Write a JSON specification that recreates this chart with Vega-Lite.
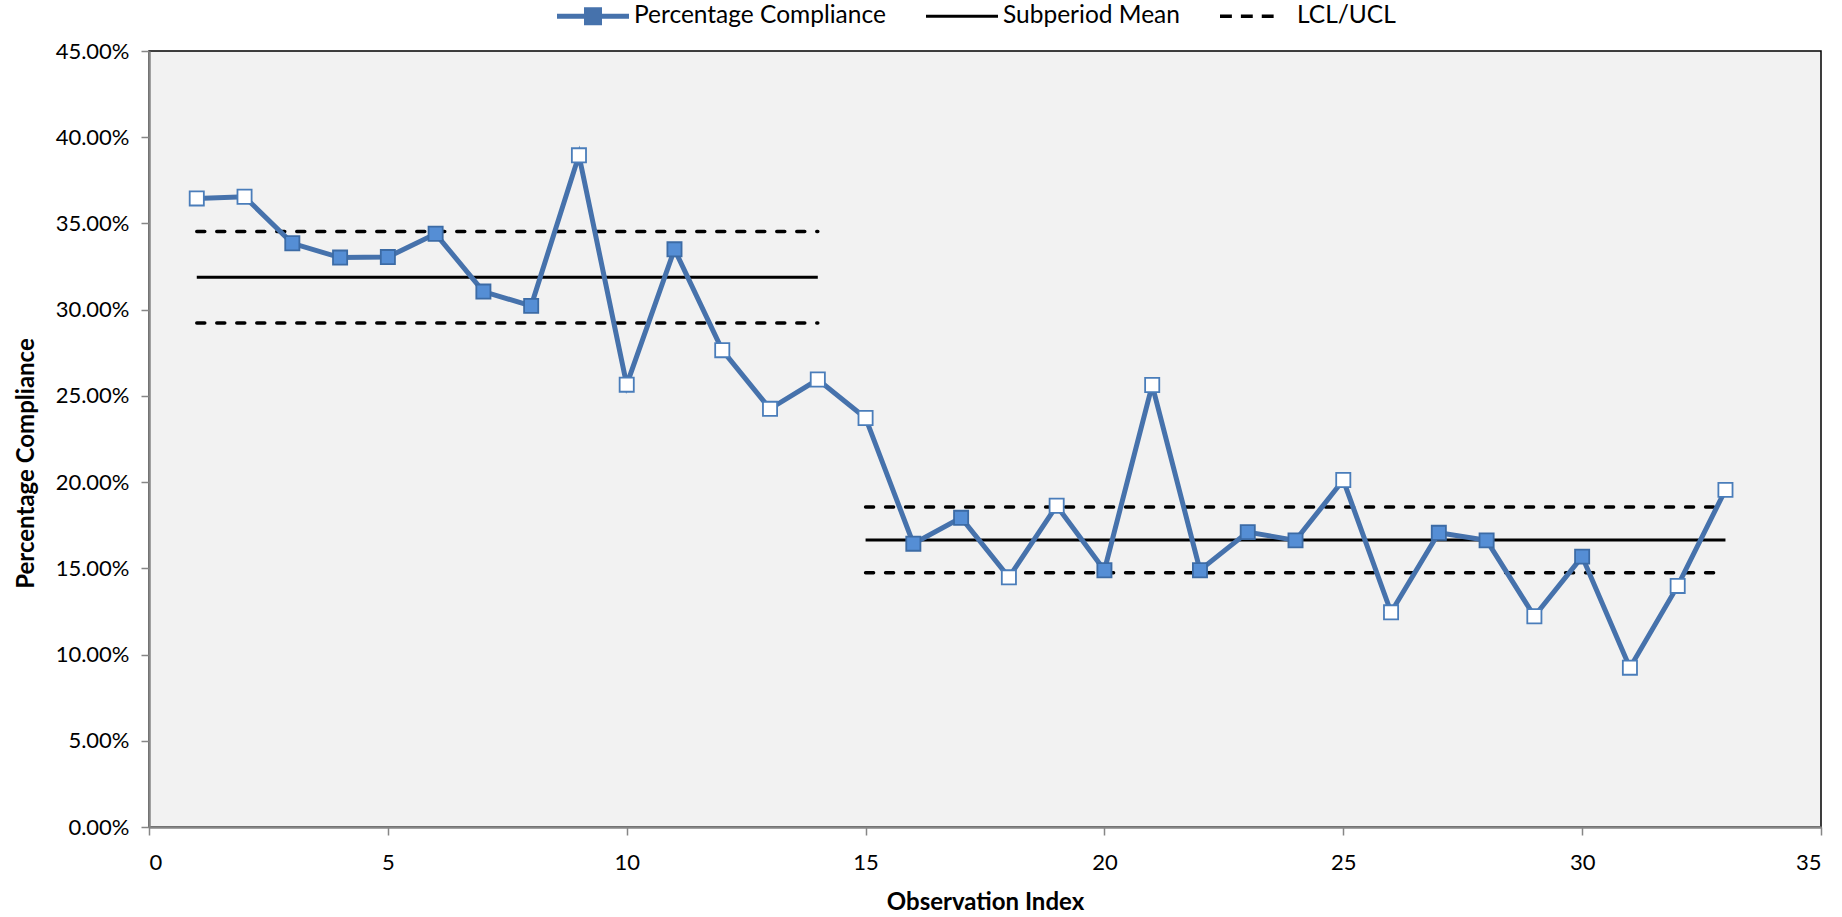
{
  "$schema": "https://vega.github.io/schema/vega-lite/v6.json",
  "autosize": "none",
  "width": 1672,
  "height": 776,
  "padding": {"left": 149, "top": 51, "right": 21, "bottom": 90},
  "background": "#FFFFFF",
  "config": {
    "view": {"fill": "#F2F2F2", "stroke": "#000000", "strokeWidth": 1.5},
    "font": "Lato",
    "axis": {
      "labelFont": "Lato", "labelFontSize": 22, "labelColor": "#000000",
      "titleFont": "Lato", "titleFontSize": 24, "titleFontWeight": "bold", "titleColor": "#000000",
      "domainColor": "#868686", "domainWidth": 2.5, "tickColor": "#868686", "tickWidth": 1.5, "tickSize": 8,
      "grid": false
    }
  },
  "datasets": {
    "obs": [
      {"x": 1, "y": 0.3645, "status": "out"},
      {"x": 2, "y": 0.3655, "status": "out"},
      {"x": 3, "y": 0.3385, "status": "in"},
      {"x": 4, "y": 0.3302, "status": "in"},
      {"x": 5, "y": 0.3305, "status": "in"},
      {"x": 6, "y": 0.3440, "status": "in"},
      {"x": 7, "y": 0.3105, "status": "in"},
      {"x": 8, "y": 0.3022, "status": "in"},
      {"x": 9, "y": 0.3895, "status": "out"},
      {"x": 10, "y": 0.2565, "status": "out"},
      {"x": 11, "y": 0.3350, "status": "in"},
      {"x": 12, "y": 0.2765, "status": "out"},
      {"x": 13, "y": 0.2425, "status": "out"},
      {"x": 14, "y": 0.2595, "status": "out"},
      {"x": 15, "y": 0.2372, "status": "out"},
      {"x": 16, "y": 0.1643, "status": "in"},
      {"x": 17, "y": 0.1793, "status": "in"},
      {"x": 18, "y": 0.1448, "status": "out"},
      {"x": 19, "y": 0.1863, "status": "out"},
      {"x": 20, "y": 0.1489, "status": "in"},
      {"x": 21, "y": 0.2563, "status": "out"},
      {"x": 22, "y": 0.1489, "status": "in"},
      {"x": 23, "y": 0.1710, "status": "in"},
      {"x": 24, "y": 0.1662, "status": "in"},
      {"x": 25, "y": 0.2012, "status": "out"},
      {"x": 26, "y": 0.1245, "status": "out"},
      {"x": 27, "y": 0.1706, "status": "in"},
      {"x": 28, "y": 0.1662, "status": "in"},
      {"x": 29, "y": 0.1222, "status": "out"},
      {"x": 30, "y": 0.1568, "status": "in"},
      {"x": 31, "y": 0.0924, "status": "out"},
      {"x": 32, "y": 0.1398, "status": "out"},
      {"x": 33, "y": 0.1955, "status": "out"}
    ],
    "means": [
      {"xs": 1, "xe": 14, "y": 0.3188},
      {"xs": 15, "xe": 33, "y": 0.1665}
    ],
    "limits": [
      {"xs": 1, "xe": 14, "y": 0.3453},
      {"xs": 1, "xe": 14, "y": 0.2923},
      {"xs": 15, "xe": 33, "y": 0.1856},
      {"xs": 15, "xe": 33, "y": 0.1475}
    ],
    "legend": [
      {"series": "Percentage Compliance"},
      {"series": "Subperiod Mean"},
      {"series": "LCL/UCL"}
    ]
  },
  "layer": [
    {
      "data": {"name": "means"},
      "mark": {"type": "rule", "color": "#000000", "strokeWidth": 3},
      "encoding": {
        "x": {"field": "xs", "type": "quantitative", "scale": {"domain": [0, 35], "nice": false},
              "axis": {"values": [0, 5, 10, 15, 20, 25, 30, 35], "title": "Observation Index", "labelPadding": 17, "titlePadding": 17}},
        "x2": {"field": "xe"},
        "y": {"field": "y", "type": "quantitative", "scale": {"domain": [0, 0.45], "nice": false},
              "axis": {"values": [0, 0.05, 0.1, 0.15, 0.2, 0.25, 0.3, 0.35, 0.4, 0.45], "format": ".2%", "title": "Percentage Compliance",
                       "labelPadding": 12, "titleX": -123, "titleY": 412, "titleAngle": -90, "titleBaseline": "middle", "titleAlign": "center"}}
      }
    },
    {
      "data": {"name": "limits"},
      "mark": {"type": "rule", "color": "#000000", "strokeWidth": 3.5, "strokeDash": [8, 12], "strokeCap": "round"},
      "encoding": {
        "x": {"field": "xs", "type": "quantitative"},
        "x2": {"field": "xe"},
        "y": {"field": "y", "type": "quantitative"}
      }
    },
    {
      "data": {"name": "obs"},
      "mark": {"type": "line", "color": "#4672AC", "strokeWidth": 5},
      "encoding": {
        "x": {"field": "x", "type": "quantitative"},
        "y": {"field": "y", "type": "quantitative"}
      }
    },
    {
      "data": {"name": "obs"},
      "mark": {"type": "point", "shape": "square", "size": 200, "filled": true, "opacity": 1, "strokeWidth": 1.8},
      "encoding": {
        "x": {"field": "x", "type": "quantitative"},
        "y": {"field": "y", "type": "quantitative"},
        "fill": {"field": "status", "type": "nominal", "scale": {"domain": ["in", "out"], "range": ["#558ED5", "#FFFFFF"]}, "legend": null},
        "stroke": {"field": "status", "type": "nominal", "scale": {"domain": ["in", "out"], "range": ["#3C6BA5", "#4A7DBA"]}, "legend": null}
      }
    },
    {
      "data": {"name": "legend"},
      "mark": {"type": "point", "filled": true, "opacity": 0},
      "encoding": {
        "x": {"datum": 1, "type": "quantitative"},
        "y": {"datum": 0.3, "type": "quantitative"},
        "color": {"field": "series", "type": "nominal",
                  "scale": {"domain": ["Percentage Compliance", "Subperiod Mean", "LCL/UCL"], "range": ["#4672AC", "#000000", "#000000"]},
                  "legend": {"title": null, "orient": "none", "legendX": 408, "legendY": -71, "direction": "horizontal",
                             "symbolSize": 5184, "symbolOpacity": 1, "symbolStrokeWidth": 0, "labelFont": "Lato", "labelFontSize": 24.5,
                             "labelLimit": 500,
                             "labelColor": "#000000", "labelOffset": 5, "columnPadding": 40, "padding": 0,
                             "encode": {"symbols": {"update": {"opacity": {"value": 1}, "fillOpacity": {"value": 1}}}}}},
        "shape": {"field": "series", "type": "nominal",
                  "scale": {"domain": ["Percentage Compliance", "Subperiod Mean", "LCL/UCL"],
                            "range": ["M-1,-0.07H1V0.07H-1Z M-0.25,-0.25H0.25V0.25H-0.25Z",
                                      "M-1,-0.045H1V0.045H-1Z",
                                      "M-1,-0.05H-0.67V0.05H-1Z M-0.42,-0.05H-0.09V0.05H-0.42Z M0.16,-0.05H0.49V0.05H0.16Z"]}}
      }
    }
  ]
}
